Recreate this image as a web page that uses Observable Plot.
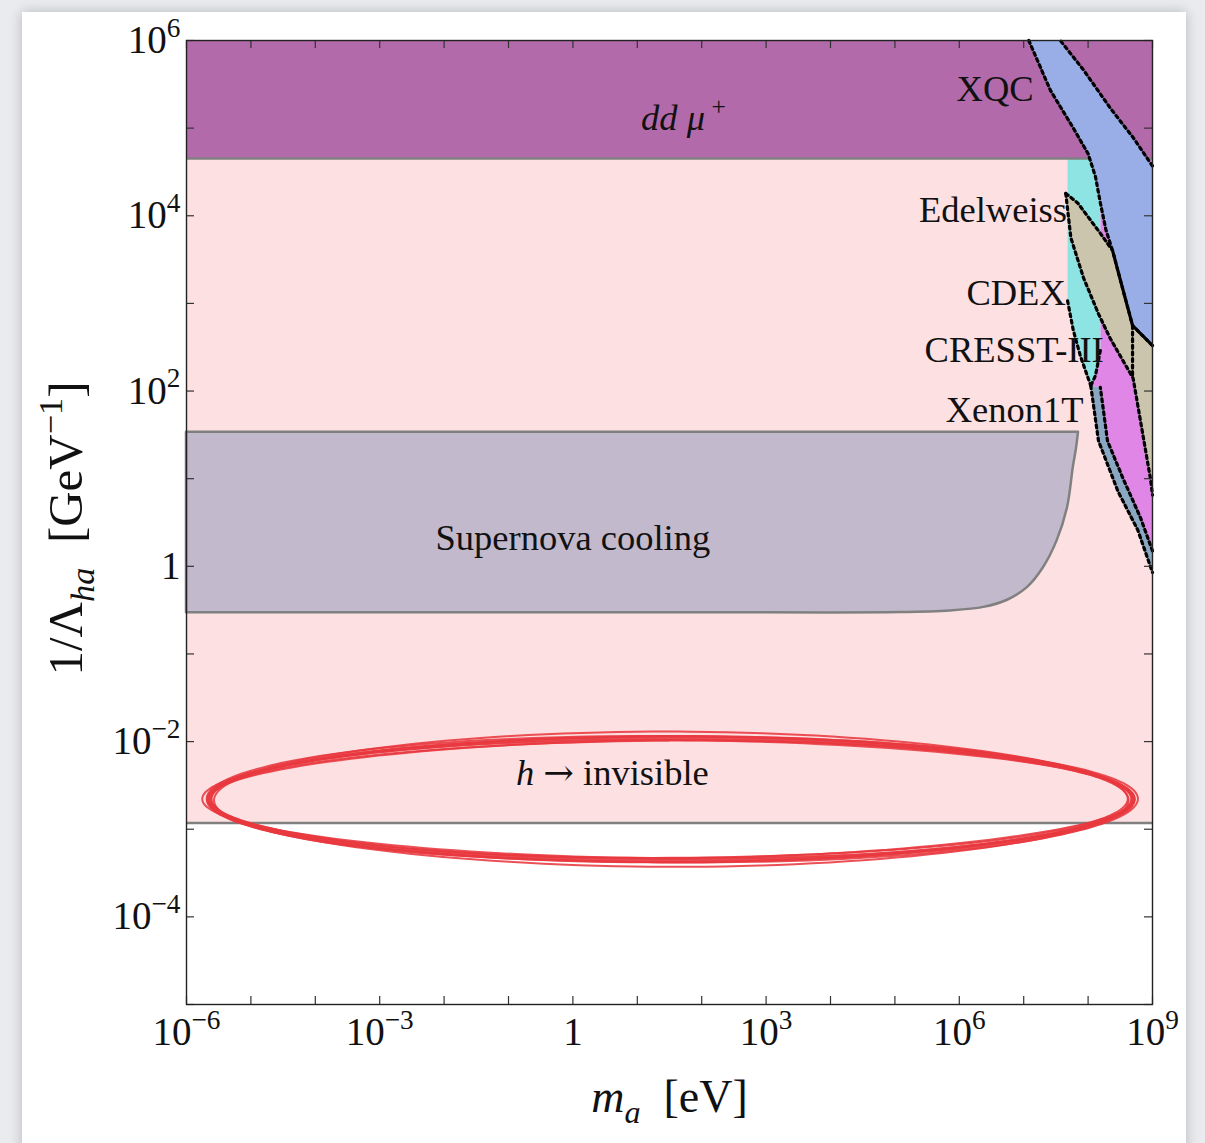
<!DOCTYPE html>
<html><head><meta charset="utf-8">
<script src="https://cdn.jsdelivr.net/npm/d3@7"></script>
<script src="https://cdn.jsdelivr.net/npm/@observablehq/plot@0.6"></script>
<style>
body{margin:0;background:#e9ebef;width:1205px;height:1143px;overflow:hidden;position:relative;font-family:"Liberation Serif",serif}
#card{position:absolute;left:22px;top:12px;width:1164px;height:1150px;background:#fff;box-shadow:0 0 12px rgba(0,0,0,0.22)}
#chart{position:absolute;left:0;top:0}
</style></head><body><div id="card"></div><div id="chart"></div>
<script>
// ---- axes ----
const massDomain = [1e-6, 1e9];
const couplingDomain = [1e-5, 1e6];
const massDecades = [1e-6,1e-5,1e-4,1e-3,1e-2,1e-1,1,1e1,1e2,1e3,1e4,1e5,1e6,1e7,1e8,1e9];
const couplingDecades = [1e-5,1e-4,1e-3,1e-2,1e-1,1,1e1,1e2,1e3,1e4,1e5,1e6];
const massTickLabels = [1e-6,1e-3,1,1e3,1e6,1e9];
const couplingTickLabels = [1e-4,1e-2,1,1e2,1e4,1e6];

// ---- bounds ----
const higgsInvisible = 1.18e-3;   // h -> invisible lower edge
const ddMuBound = 4.5e4;          // dd mu+ lower edge

// ---- regions [mass eV, 1/Lambda GeV^-1] ----
const supernovaMinMass = 1e-6;
// right-hand edge of the supernova region, top to bottom
const supernovaEdge = [[7.1e7,33.9],[6.6e7,22],[5.9e7,13.5],[4.8e7,4.7],[3.3e7,1.95],[2.0e7,0.95],[1.15e7,0.575],[5.6e6,0.41],[2.4e6,0.34],[7.2e5,0.31],[1.2e5,0.297],[1e3,0.295]];
const xqcLeft = [[1.2e7,1e6],[2.6e7,2.7e5],[5.9e7,1.0e5],[1.0e8,5.1e4],[1.3e8,2.8e4],[1.55e8,1.4e4],[1.9e8,6.8e3],[2.4e8,4.0e3],[3.2e8,1.8e3],[4.9e8,5.6e2],[1e9,3.3e2]];
const xqcRight = [[1e9,3.7e4],[5.0e8,7.8e4],[2.2e8,1.7e5],[8.5e7,4.6e5],[3.7e7,1e6]];
const edelUpper = [[4.5e7,1.8e4],[6.9e7,1.4e4],[1.55e8,6.3e3],[2.4e8,4.0e3],[3.2e8,1.8e3],[4.9e8,5.6e2],[1e9,3.3e2]];
const edelLower = [[4.5e7,1.8e4],[5.4e7,5.6e3],[8.5e7,1.95e3],[1.45e8,7.6e2],[2.2e8,4.0e2],[5.0e8,1.4e2],[6.5e8,46],[9.3e8,10],[1e9,6.5]];
const cdexRegion = [[4.8e7,1e6],[1.55e8,1e6],[1.55e8,2.9e2],[1.3e8,1.5e2],[1.1e8,1.15e2],[7.6e7,2.5e2],[5.9e7,4.9e2],[4.8e7,1.07e3]];
const cdexLower = [[4.8e7,1.07e3],[5.9e7,4.9e2],[7.6e7,2.5e2],[1.1e8,1.15e2]];
const cdexRight = [[1.55e8,2.9e2],[1.3e8,1.5e2],[1.1e8,1.15e2]];
const cresstRegion = [[1.55e8,1e6],[1e9,1e6],[1e9,1.5],[6.5e8,3.6],[3.5e8,10],[2.0e8,27],[1.55e8,1.1e2],[1.1e8,1.15e2],[1.3e8,1.5e2],[1.55e8,2.9e2]];
const cresstEdge = [[4.9e8,5.6e2],[4.9e8,1.5e2]];
const xenonLeft = [[1.1e8,1.15e2],[1.45e8,27],[2.9e8,7.2],[5.9e8,2.6],[1e9,0.85]];
const xenonRight = [[1e9,1.5],[6.5e8,3.6],[3.5e8,10],[2.0e8,27],[1.55e8,1.1e2]];

// ---- labels ----
const regionLabels = [
  {x:52, y:1.3e5, text:"{i:dd μ}{sup: +}", anchor:"middle"},
  {x:3.6e6, y:2.8e5, text:"XQC", anchor:"middle"},
  {x:4.7e7, y:1.15e4, text:"Edelweiss", anchor:"end"},
  {x:4.5e7, y:1.3e3, text:"CDEX", anchor:"end"},
  {x:1.75e8, y:2.9e2, text:"CRESST-III", anchor:"end"},
  {x:8.5e7, y:60, text:"Xenon1T", anchor:"end"},
  {x:1, y:2.07, text:"Supernova cooling", anchor:"middle"},
  {x:4.1, y:4.3e-3, text:"{i:h} {sym:→} invisible", anchor:"middle"}
];
const xTitle = "{i:m}{isub:a}  [eV]";
const yTitle = "1/Λ{isub:ha}  [GeV{sup:−1}]";

// ---- hand-drawn red ellipse annotation (centre, radii in decades, stroke offsets) ----
const ringCentre = [33, 2.2e-3];
const ringRadiiDecades = [7.17, 0.70];
const ringStrokes = [[0,0,0],[0.06,0.03,0.3],[-0.05,-0.025,1.1],[0.03,0.045,2.0],[-0.03,0.015,2.7],[0.07,-0.03,3.6],[-0.07,0.035,4.4],[0.01,-0.045,5.2]];

const C = {pink:"#fde0e1", purple:"#b26aab", blue:"#99ade6", cyan:"#8ee4e2", magenta:"#e086e6", tan:"#ccc5ad", xenon:"#8ba8c2", sn:"#c3b9cc", gray:"#808080", red:"#e8383f"};

function fmt(v){const e=Math.round(Math.log10(v)); return e===0?"1":`10{sup:${e<0?"−":""}${Math.abs(e)}}`;}
const px = d=>d[0], py = d=>d[1];
function poly(data, fill){return Plot.line(data,{x:px,y:py,fill,stroke:"none"});}
function dotted(data){return Plot.line(data,{x:px,y:py,stroke:"#000",strokeWidth:3.2,strokeDasharray:"3,3.6"});}

const ringMarks = ringStrokes.map(([dr, ds, ph], k) => {
  const pts = [];
  const n = 160;
  for (let i = 0; i <= n + 10; i++) {
    const t = (i / n) * 2 * Math.PI + ph;
    const rx = ringRadiiDecades[0] + dr * (1 + 0.5 * Math.sin(3 * t + k));
    const ry = ringRadiiDecades[1] + ds * (1 + 0.6 * Math.cos(2 * t + k));
    pts.push([ringCentre[0] * Math.pow(10, rx * Math.cos(t)), ringCentre[1] * Math.pow(10, ry * Math.sin(t))]);
  }
  return Plot.line(pts, {x:px, y:py, stroke:C.red, strokeWidth: k===0?3:2, strokeOpacity:0.88, curve:"catmull-rom"});
});

const fw = 1205-186-53, fh = 1143-40-139;
const chart = Plot.plot({
  width:1205, height:1143,
  marginLeft:186, marginRight:53, marginTop:40, marginBottom:139,
  style:{fontFamily:'"Liberation Serif", serif', fontSize:"39px", background:"transparent", color:"#111", overflow:"visible"},
  x:{type:"log", domain:massDomain, ticks:massTickLabels, tickFormat:fmt, tickSize:0, tickPadding:13, label:null},
  y:{type:"log", domain:couplingDomain, ticks:couplingTickLabels, tickFormat:fmt, tickSize:0, tickPadding:6, label:null},
  marks:[
    Plot.rect([0],{x1:massDomain[0],x2:massDomain[1],y1:higgsInvisible,y2:ddMuBound,fill:C.pink}),
    poly(cresstRegion, C.magenta),
    poly(cdexRegion, C.cyan),
    Plot.rect([0],{x1:massDomain[0],x2:massDomain[1],y1:ddMuBound,y2:couplingDomain[1],fill:C.purple}),
    Plot.ruleY([ddMuBound],{stroke:C.gray,strokeWidth:2.5}),
    poly(edelUpper.concat(edelLower.slice().reverse()), C.tan),
    poly(xenonLeft.concat(xenonRight), C.xenon),
    poly(xqcLeft.concat(xqcRight), C.blue),
    Plot.areaX(supernovaEdge,{y:py,x1:supernovaMinMass,x2:px,fill:C.sn,stroke:C.gray,strokeWidth:2.5,curve:"catmull-rom"}),
    Plot.ruleY([higgsInvisible],{stroke:C.gray,strokeWidth:2.5}),
    dotted(xqcLeft), dotted(xqcRight), dotted(edelUpper), dotted(edelLower),
    dotted(cdexLower), dotted(cdexRight), dotted(cresstEdge), dotted(xenonLeft), dotted(xenonRight),
    ...["start","middle","end"].map(a => Plot.text(regionLabels.filter(d=>d.anchor===a),{x:"x",y:"y",text:"text",textAnchor:a,fontSize:36.5,fill:"#111"})),
    ...ringMarks,
    Plot.tickX(massDecades,{x:d=>d,insetTop:fh-8,stroke:"#333",strokeWidth:1.2}),
    Plot.tickX(massDecades,{x:d=>d,insetBottom:fh-8,stroke:"#333",strokeWidth:1.2}),
    Plot.tickY(couplingDecades,{y:d=>d,insetRight:fw-8,stroke:"#333",strokeWidth:1.2}),
    Plot.tickY(couplingDecades,{y:d=>d,insetLeft:fw-8,stroke:"#333",strokeWidth:1.2}),
    Plot.frame({stroke:"#222",strokeWidth:1.4}),
    Plot.text([xTitle],{text:d=>d,frameAnchor:"bottom",dy:107,fontSize:46,fill:"#111"}),
    Plot.text([yTitle],{text:d=>d,frameAnchor:"left",textAnchor:"middle",lineAnchor:"middle",rotate:-90,dx:-120,dy:6,fontSize:49,fill:"#111"})
  ]
});
document.getElementById("chart").appendChild(chart);

// rich text: {i:..} italic, {sup:..}, {sub:..}, {isub:..}, {sym:..}
function richify(el){
  const s = el.textContent;
  if (!s.includes("{")) return;
  el.textContent = "";
  const re = /\{(i|sup|sub|isub|sym):([^}]*)\}|([^{]+)/g;
  let m, shift = 0;
  while ((m = re.exec(s))) {
    const type = m[1] || "n", txt = m[1] ? m[2] : m[3];
    const size = (type==="sup"||type==="sub"||type==="isub") ? 0.7 : 1;
    const target = type==="sup" ? -0.42 : (type==="sub"||type==="isub") ? 0.24 : 0;
    const ts = document.createElementNS("http://www.w3.org/2000/svg","tspan");
    if (size !== 1) ts.setAttribute("font-size", (size*100)+"%");
    if (target !== shift) ts.setAttribute("dy", ((target-shift)/size).toFixed(3)+"em");
    if (type==="i"||type==="isub") ts.setAttribute("font-style","italic");
    if (type==="sym") ts.setAttribute("font-family","DejaVu Serif");
    ts.textContent = txt;
    el.appendChild(ts);
    shift = target;
  }
}
chart.querySelectorAll("text").forEach(richify);
</script></body></html>
